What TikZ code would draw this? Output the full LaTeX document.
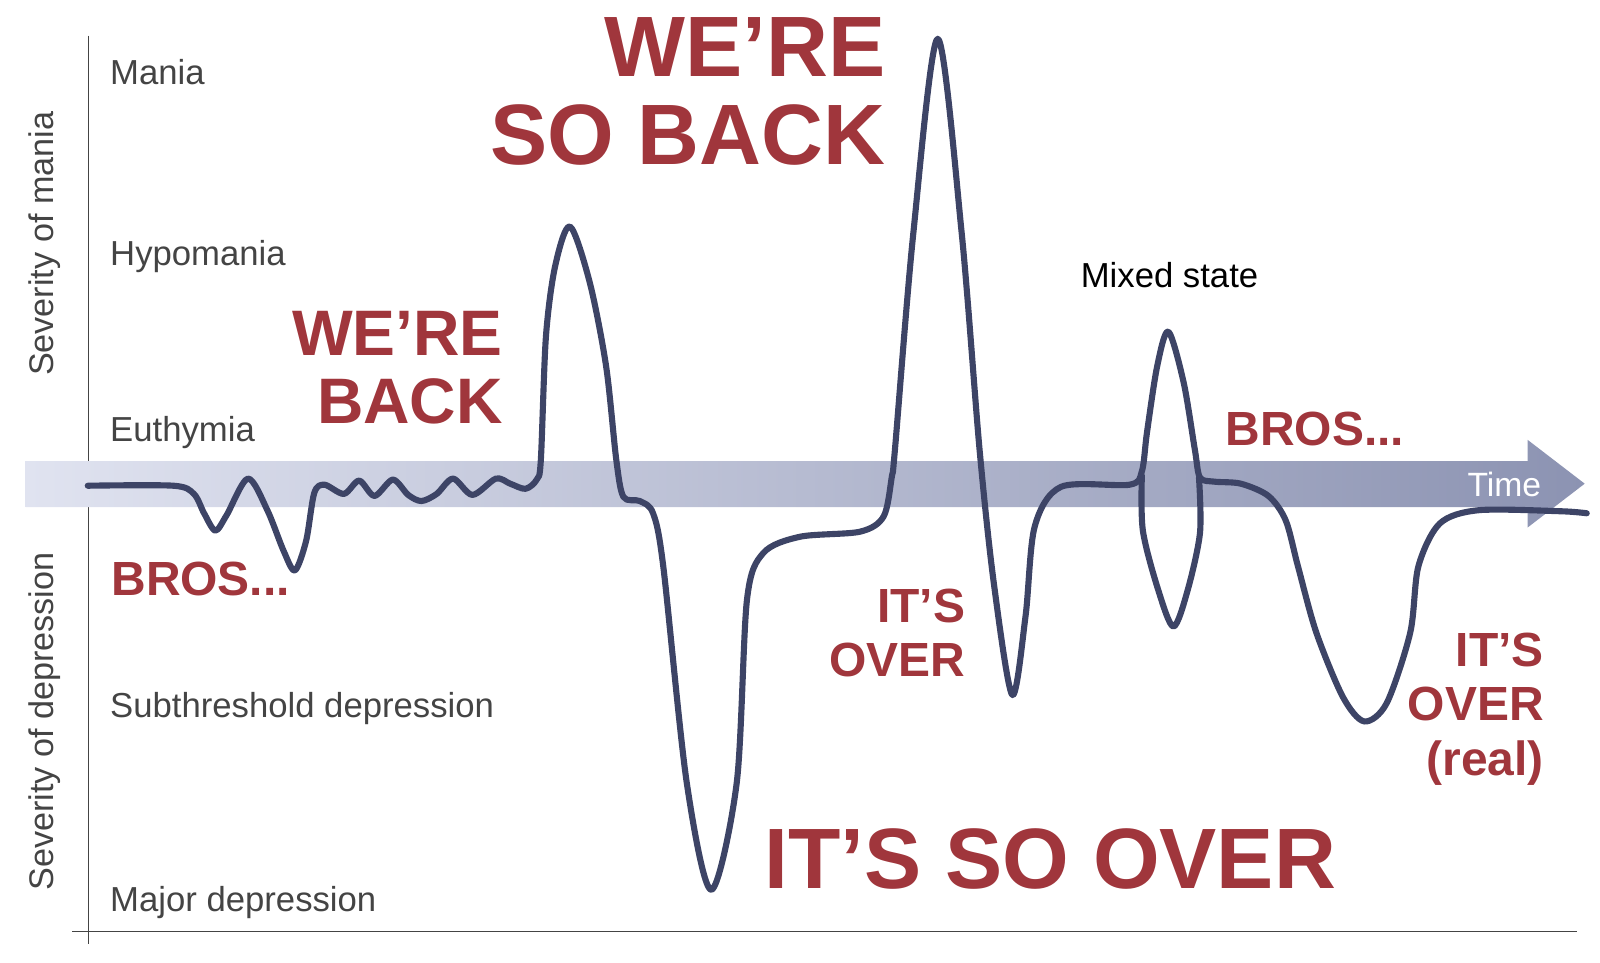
\documentclass[tikz,border=0pt]{standalone}
\usepackage{fontspec}
\setmainfont{Liberation Sans}

\definecolor{overred}{HTML}{A0363C}
\definecolor{lvlgray}{HTML}{444444}
\definecolor{moodline}{HTML}{3D4466}
\definecolor{bandlight}{HTML}{E0E3F0}
\definecolor{banddark}{HTML}{8C93B2}

\tikzset{
  lvltext/.style={anchor=base west, inner sep=0pt, text=lvlgray, font=\fontsize{34}{40}\selectfont},
  axtitle/.style={anchor=base, rotate=90, inner sep=0pt, text=lvlgray, font=\fontsize{33.5}{40}\selectfont},
  hugered/.style={inner sep=0pt, text=overred, align=right, font=\bfseries\fontsize{84}{86}\selectfont},
  midred/.style={inner sep=0pt, text=overred, align=right, font=\bfseries\fontsize{63}{67}\selectfont},
  smallred/.style={inner sep=0pt, text=overred, align=right, font=\bfseries\fontsize{47}{53.5}\selectfont},
  moodcurve/.style={draw=moodline, line width=6pt, line cap=round, line join=round}
}

\begin{document}
\begin{tikzpicture}[x=1pt, y=-1pt]

    \useasboundingbox (0,0) rectangle (1568,943);

    % axes
    \draw[lvlgray, line width=1.4pt] (86.6,35) -- (86.6,925);
    \draw[lvlgray, line width=1.4pt] (71,913) -- (1545,913);

    % time band
    \shade[left color=bandlight, right color=banddark]
        (25,452) -- (1497,452) -- (1497,431) -- (1553,474) -- (1497,517) -- (1497,497) -- (25,497) -- cycle;
    \node[anchor=base west, inner sep=0pt, text=white, font=\fontsize{33}{40}\selectfont] (time) at (1438,487) {Time};

    % levels
    \node[lvltext] (mania) at (107.8,83) {Mania};
    \node[lvltext] (hypo) at (107.8,260) {Hypomania};
    \node[lvltext] (euthy) at (107.8,433) {Euthymia};
    \node[lvltext] (subdep) at (107.8,703) {Subthreshold depression};
    \node[lvltext] (majdep) at (107.8,893) {Major depression};

    \node[axtitle] (sevmania) at (52,239) {Severity of mania};
    \node[axtitle] (sevdep) at (52,707) {Severity of depression};

    % mood
    \draw[moodcurve] plot[smooth, tension=0.5] coordinates {
        (86,476) (170,476) (190,484) (200,503) (211,520) (222,505) (243,469)
        (262,500) (278,540) (289,559) (300,530) (308,483) (318,475)
        (337,484) (352,471) (367,486) (385,470) (400,485) (413,491) (428,484)
        (444,469) (463,485) (486,469) (500,474) (515,479) (526,470) (530,451)
        (535,330) (544,261) (558.6,222) (578,277) (594,359) (604,451)
        (611,487) (627,491) (640,503) (650,555) (673,767) (697,872)
        (722,767) (732,588) (748,542) (784,526) (843,521) (866,506) (874,467)
        (877,441) (895,229) (919,38) (942.5,229) (960,441) (974,572) (992,681)
        (1005,604) (1014,516) (1040,477) (1107,475) (1119,462) (1124,424)
        (1134,359) (1145,325) (1160,375) (1171,441) (1176,468) (1190,472)
        (1216,474) (1243,486) (1260,510) (1272,555) (1290,620) (1316,683) (1337,707)
        (1359,689) (1382,620) (1390,555) (1411,513) (1449,500) (1529,501) (1555,503)};
    \draw[moodcurve] plot[smooth, tension=0.5] coordinates {
        (1119,466) (1120,520) (1135,578) (1150,614) (1164,578) (1176,522) (1175,468)};

    \node[anchor=base west, inner sep=0pt, font=\fontsize{34}{40}\selectfont] (mixed) at (1059,281.6) {Mixed state};

    % captions
    \node[hugered, anchor=north east] (soback) at (868,17) {WE’RE\\SO BACK};
    \node[midred, anchor=north east] (back) at (493,304.5) {WE’RE\\BACK};
    \node[smallred, anchor=base west] (brosleft) at (109,584) {BROS...};
    \node[smallred, anchor=base west] (brosright) at (1201,437) {BROS...};
    \node[smallred, anchor=north east] (over) at (946,576.6) {IT’S\\OVER};
    \node[smallred, anchor=north east] (overreal) at (1513,620) {IT’S\\OVER\\(real)};
    \node[hugered, anchor=base west] (soover) at (749,870.5) {IT’S SO OVER};

\end{tikzpicture}
\end{document}
